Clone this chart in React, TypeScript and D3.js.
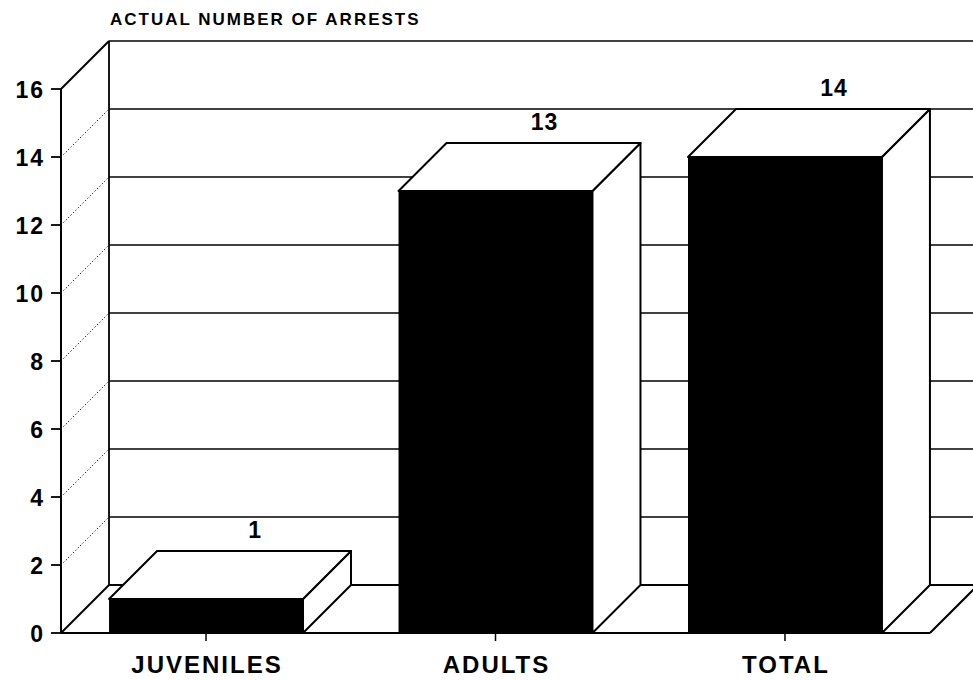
import React from 'react';
import * as d3 from 'd3';

// values
const categories = ['JUVENILES', 'ADULTS', 'TOTAL'];
const arrests = [1, 13, 14];
const yTicks = [0, 2, 4, 6, 8, 10, 12, 14, 16];
const title = 'ACTUAL NUMBER OF ARRESTS';

const W = 973;
const H = 680;
const FONT = '"Liberation Sans", Arial, Helvetica, sans-serif';

// oblique depth of the 3d box
const DX = 48;
const DY = -48;

const App = () => {
  const y = d3.scaleLinear().domain([0, 16]).range([633, 89]);
  const x = d3.scaleBand<string>()
    .domain(categories)
    .range([61, 930])
    .paddingInner(0.33)
    .paddingOuter(0.166);

  const y0 = y(0);
  const left = x.range()[0];
  const right = x.range()[1];
  const pts = (p: number[][]) => p.map(d => d.join(',')).join(' ');

  return (
    <svg width={W} height={H} style={{ position: 'absolute', left: 0, top: 0, background: '#fff' }}>
      <text x={110} y={25} fontFamily={FONT} fontWeight="bold" fontSize={17} letterSpacing={2}>
        {title}
      </text>

      {/* back wall: grid lines and top edge */}
      {yTicks.map(t => (
        <line key={'g' + t} x1={left + DX} x2={W + 10} y1={y(t) + DY} y2={y(t) + DY}
          stroke="#000" strokeWidth={t === 0 ? 1.8 : 1.7} />
      ))}
      <line x1={left + DX} x2={left + DX} y1={y(16) + DY} y2={y0 + DY} stroke="#000" strokeWidth={1.8} />

      {/* left side wall */}
      {yTicks.map(t => (
        <line key={'s' + t} x1={left} y1={y(t)} x2={left + DX} y2={y(t) + DY}
          stroke="#000"
          strokeWidth={t === 0 || t === 16 ? 2 : 1}
          strokeDasharray={t === 0 || t === 16 ? undefined : '1.2,2.2'} />
      ))}

      {/* floor right edge */}
      <line x1={right} y1={y0} x2={right + DX} y2={y0 + DY} stroke="#000" strokeWidth={2} />

      {/* bars */}
      {categories.map((c, i) => {
        const bx0 = x(c) as number;
        const bx1 = bx0 + x.bandwidth();
        const top = y(arrests[i]);
        return (
          <g key={c}>
            <polygon
              points={pts([[bx1, top], [bx1 + DX, top + DY], [bx1 + DX, y0 + DY], [bx1, y0]])}
              fill="#fff" stroke="#000" strokeWidth={2} strokeLinejoin="round" />
            <polygon
              points={pts([[bx0, top], [bx0 + DX, top + DY], [bx1 + DX, top + DY], [bx1, top]])}
              fill="#fff" stroke="#000" strokeWidth={2} strokeLinejoin="round" />
            <rect x={bx0} y={top} width={bx1 - bx0} height={y0 - top} fill="#000" />
            <text x={(bx0 + bx1) / 2 + DX + 1} y={top + DY - 13} textAnchor="middle"
              fontFamily={FONT} fontWeight="bold" fontSize={23} letterSpacing={1}>
              {arrests[i]}
            </text>
            <line x1={(bx0 + bx1) / 2} x2={(bx0 + bx1) / 2} y1={y0} y2={y0 + 8} stroke="#000" strokeWidth={1.5} />
            <text x={(bx0 + bx1) / 2 + 1} y={673} textAnchor="middle"
              fontFamily={FONT} fontWeight="bold" fontSize={24} letterSpacing={2}>
              {c}
            </text>
          </g>
        );
      })}

      {/* floor front edge and front axis */}
      <line x1={left} x2={right} y1={y0} y2={y0} stroke="#000" strokeWidth={2} />
      <line x1={left} x2={left} y1={y(16)} y2={y0} stroke="#000" strokeWidth={2} />
      {yTicks.map(t => (
        <g key={'t' + t}>
          <line x1={left - 10} x2={left} y1={y(t)} y2={y(t)} stroke="#000" strokeWidth={1.8} />
          <text x={45} y={y(t) + 9} textAnchor="end" fontFamily={FONT} fontWeight="bold"
            fontSize={23} letterSpacing={2}>
            {t}
          </text>
        </g>
      ))}
    </svg>
  );
};

export default App;
